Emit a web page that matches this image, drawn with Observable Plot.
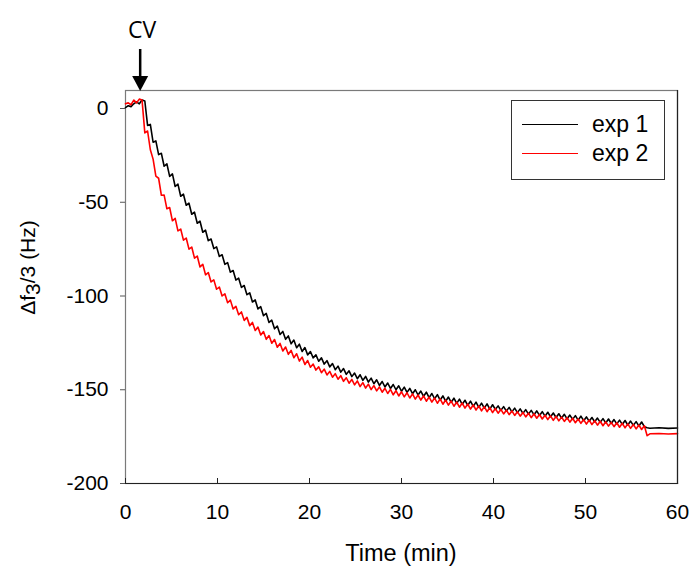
<!DOCTYPE html>
<html><head><meta charset="utf-8">
<script src="https://cdn.jsdelivr.net/npm/d3@7"></script>
<script src="https://cdn.jsdelivr.net/npm/@observablehq/plot@0.6"></script>
<style>body{margin:0;background:#fff} #chart{width:692px;height:567px}</style>
</head><body><div id="chart"></div>
<script>
const timeMin = [
0,0.3,0.6,0.9,1.2,1.5,1.8,2.1,2.4,2.7,
3,3.3,3.6,3.9,4.2,4.5,4.8,5.1,5.4,5.7,
6,6.3,6.6,6.9,7.2,7.5,7.8,8.1,8.4,8.7,
9,9.3,9.6,9.9,10.2,10.5,10.8,11.1,11.4,11.7,
12,12.3,12.6,12.9,13.2,13.5,13.8,14.1,14.4,14.7,
15,15.3,15.6,15.9,16.2,16.5,16.8,17.1,17.4,17.7,
18,18.3,18.6,18.9,19.2,19.5,19.8,20.1,20.4,20.7,
21,21.3,21.6,21.9,22.2,22.5,22.8,23.1,23.4,23.7,
24,24.3,24.6,24.9,25.2,25.5,25.8,26.1,26.4,26.7,
27,27.3,27.6,27.9,28.2,28.5,28.8,29.1,29.4,29.7,
30,30.3,30.6,30.9,31.2,31.5,31.8,32.1,32.4,32.7,
33,33.3,33.6,33.9,34.2,34.5,34.8,35.1,35.4,35.7,
36,36.3,36.6,36.9,37.2,37.5,37.8,38.1,38.4,38.7,
39,39.3,39.6,39.9,40.2,40.5,40.8,41.1,41.4,41.7,
42,42.3,42.6,42.9,43.2,43.5,43.8,44.1,44.4,44.7,
45,45.3,45.6,45.9,46.2,46.5,46.8,47.1,47.4,47.7,
48,48.3,48.6,48.9,49.2,49.5,49.8,50.1,50.4,50.7,
51,51.3,51.6,51.9,52.2,52.5,52.8,53.1,53.4,53.7,
54,54.3,54.6,54.9,55.2,55.5,55.8,56.1,56.4,56.7,
57,58,59,60];

const exp1 = [
0.5,1.5,1,2.5,3.5,2.5,4.5,4,-9,-8.5,
-18,-17.3,-24.6,-23.9,-30.8,-29.5,-36.2,-34.9,-41.6,-40.3,
-46.8,-45.7,-51.6,-50.5,-56.4,-55.3,-61.2,-60.1,-66,-64.9,
-70.5,-69.6,-74.7,-73.8,-78.9,-78,-83.1,-82.2,-87.3,-86.4,
-91.5,-90.5,-95.4,-94.4,-99.3,-98.3,-103.2,-102.1,-106.9,-105.7,
-110.5,-109.3,-114.1,-112.9,-117.5,-116,-120.5,-118.9,-123.1,-121.3,
-125.5,-123.5,-127.6,-125.7,-129.6,-127.5,-131.4,-129.6,-133,-131.4,
-134.8,-133,-136.3,-134.5,-137.8,-136,-139.3,-137.4,-140.6,-138.7,
-141.8,-139.9,-143,-141.1,-144.1,-142,-145,-142.9,-145.9,-143.8,
-146.8,-144.7,-147.7,-145.6,-148.5,-146.4,-149.3,-147.2,-150,-147.9,
-150.8,-148.6,-151.4,-149.3,-152.1,-150,-152.8,-150.7,-153.5,-151.3,
-154.2,-152,-154.8,-152.6,-155.5,-153.3,-156.1,-153.9,-156.7,-154.5,
-157.3,-155,-157.8,-155.6,-158.3,-156.1,-158.9,-156.6,-159.4,-157.1,
-159.8,-157.5,-160.3,-158,-160.5,-158.6,-161,-159,-161.4,-159.4,
-161.8,-159.8,-162.2,-160.2,-162.6,-160.6,-163,-161,-163.3,-161.3,
-163.7,-161.7,-164.1,-162,-164.4,-162.4,-164.8,-162.8,-165.1,-163.1,
-165.5,-163.5,-165.8,-163.8,-166.2,-164.1,-166.5,-164.5,-166.8,-164.8,
-167.1,-165.1,-167.4,-165.4,-167.7,-165.6,-168,-165.9,-168.2,-166.2,
-168.5,-166.4,-168.8,-166.7,-169,-167,-169.3,-167.2,-169.7,-170.3,
-170.5,-170.3,-170.6,-170.4];

const exp2 = [
2.5,3,2,4.5,3,5,4.5,-13,-12,-22,
-27,-36.1,-37.2,-46.3,-46.2,-53.5,-52.8,-59.9,-58.6,-65.3,
-64.3,-70.2,-69.1,-75,-73.9,-79.8,-78.7,-84.5,-83.1,-88.7,
-87.5,-92.5,-91.4,-96.4,-95.2,-100,-98.8,-103.6,-102.2,-106.9,
-105.5,-110,-108.5,-113,-111.4,-115.8,-114.1,-118.4,-116.6,-120.8,
-119,-123.1,-121.1,-125.2,-123.2,-127.3,-125.3,-129.3,-127.2,-131.1,
-129,-132.9,-130.8,-134.7,-132.6,-136.5,-134.4,-138,-136.3,-139.5,
-137.8,-140.9,-139,-142.1,-140.2,-143.3,-141.4,-144.4,-142.5,-145.5,
-143.6,-146.5,-144.5,-147.4,-145.3,-148.3,-146.2,-149.1,-147,-149.9,
-147.8,-150.6,-148.5,-151.3,-149.2,-152,-149.8,-152.7,-150.5,-153.3,
-151.1,-153.8,-151.6,-154.4,-152.2,-155,-152.8,-155.5,-153.3,-156.1,
-153.9,-156.6,-154.4,-157.2,-154.9,-157.7,-155.5,-158.2,-156,-158.8,
-156.6,-159.3,-157.1,-159.8,-157.6,-160.3,-158.1,-160.8,-158.6,-161.3,
-159,-161.7,-159.5,-162.2,-160,-162.5,-160.5,-162.9,-160.9,-163.3,
-161.3,-163.7,-161.7,-164.1,-162.1,-164.5,-162.5,-164.9,-162.8,-165.2,
-163.2,-165.6,-163.6,-165.9,-163.9,-166.3,-164.2,-166.6,-164.6,-166.9,
-164.9,-167.3,-165.2,-167.6,-165.6,-167.9,-165.9,-168.3,-166.2,-168.6,
-166.5,-168.9,-166.8,-169.2,-167.1,-169.4,-167.4,-169.7,-167.6,-170,
-167.9,-170.3,-168.2,-170.6,-168.5,-170.9,-168.8,-171.2,-169.2,-174.5,
-173.5,-173.3,-173.6,-173.4];

const seriesNames = ["exp 1", "exp 2"];
const seriesColors = ["#000000", "#ff0000"];
const xTicks = [0, 10, 20, 30, 40, 50, 60];
const yTicks = [0, -50, -100, -150, -200];
const cvTime = 1.65;

const rows = [];
timeMin.forEach((t, i) => {
  rows.push({t, v: exp1[i], s: seriesNames[0]});
  rows.push({t, v: exp2[i], s: seriesNames[1]});
});

const W = 692, H = 567, mL = 125, mR = 15, mT = 90, mB = 84;
const font = "'Liberation Sans', Arial, sans-serif";

const plot = Plot.plot({
  width: W, height: H,
  marginLeft: mL, marginRight: mR, marginTop: mT, marginBottom: mB,
  style: {fontFamily: font, fontSize: "21px", color: "#000", background: "#fff", overflow: "visible"},
  x: {domain: [0, 60]},
  y: {domain: [-200, 9.6]},
  color: {domain: seriesNames, range: seriesColors},
  marks: [
    Plot.frame({stroke: "#7a7a7a", strokeWidth: 1.2}),
    Plot.line(rows, {x: "t", y: "v", z: "s", stroke: "s", strokeWidth: 1.6}),
    Plot.frame({anchor: "bottom", stroke: "#222", strokeWidth: 1.2}),
    Plot.frame({anchor: "right", stroke: "#222", strokeWidth: 1.2}),
    Plot.tickX(xTicks, {x: d => d, insetTop: H - mT - mB - 5, stroke: "#222"}),
    Plot.axisX({ticks: xTicks, tickSize: 0, tickPadding: 21, label: null, tickFormat: d => String(d), fontSize: 21}),
    Plot.axisY({ticks: yTicks, tickSize: 5, tickPadding: 12, label: null, tickFormat: d => String(d), fontSize: 21, stroke: "#555"})
  ]
});

document.getElementById("chart").appendChild(plot);
const svg = d3.select(plot);
const xs = plot.scale("x");
const ys = plot.scale("y");

// y label with subscript
const yl = svg.append("text")
  .attr("transform", `translate(35, ${(ys.apply(0) + ys.apply(-200)) / 2 - 28}) rotate(-90)`)
  .attr("text-anchor", "middle")
  .attr("font-family", font).attr("font-size", 21).attr("fill", "#000");
yl.append("tspan").text("Δf");
yl.append("tspan").attr("dy", 5).text("3");
yl.append("tspan").attr("dy", -5).text("/3 (Hz)");

// x label
svg.append("text")
  .attr("x", (xs.apply(0) + xs.apply(60)) / 2).attr("y", 561)
  .attr("text-anchor", "middle")
  .attr("font-family", font).attr("font-size", 23.5).attr("fill", "#000")
  .text("Time (min)");

// CV annotation with arrow
const ax = xs.apply(cvTime);
svg.append("text")
  .attr("x", ax + 2).attr("y", 38)
  .attr("text-anchor", "middle")
  .attr("font-family", "'Open Sans', sans-serif").attr("font-size", 23).attr("fill", "#000")
  .text("CV");
svg.append("line")
  .attr("x1", ax).attr("x2", ax).attr("y1", 49).attr("y2", 78)
  .attr("stroke", "#000").attr("stroke-width", 2.5);
svg.append("path")
  .attr("d", `M${ax - 8},76 L${ax + 8},76 L${ax},91 Z`)
  .attr("fill", "#000");

// legend
const lg = svg.append("g");
lg.append("rect").attr("x", 511.5).attr("y", 100.5).attr("width", 153).attr("height", 79)
  .attr("fill", "#fff").attr("stroke", "#333").attr("stroke-width", 1);
seriesNames.forEach((name, i) => {
  const y = 124 + i * 29;
  lg.append("line").attr("x1", 522).attr("x2", 578).attr("y1", y + 0.5).attr("y2", y + 0.5)
    .attr("stroke", seriesColors[i]).attr("stroke-width", 1);
  lg.append("text").attr("x", 592).attr("y", y + 8)
    .attr("text-anchor", "start")
    .attr("font-family", font).attr("font-size", 23).attr("fill", "#000").text(name);
});
</script>
</body></html>
